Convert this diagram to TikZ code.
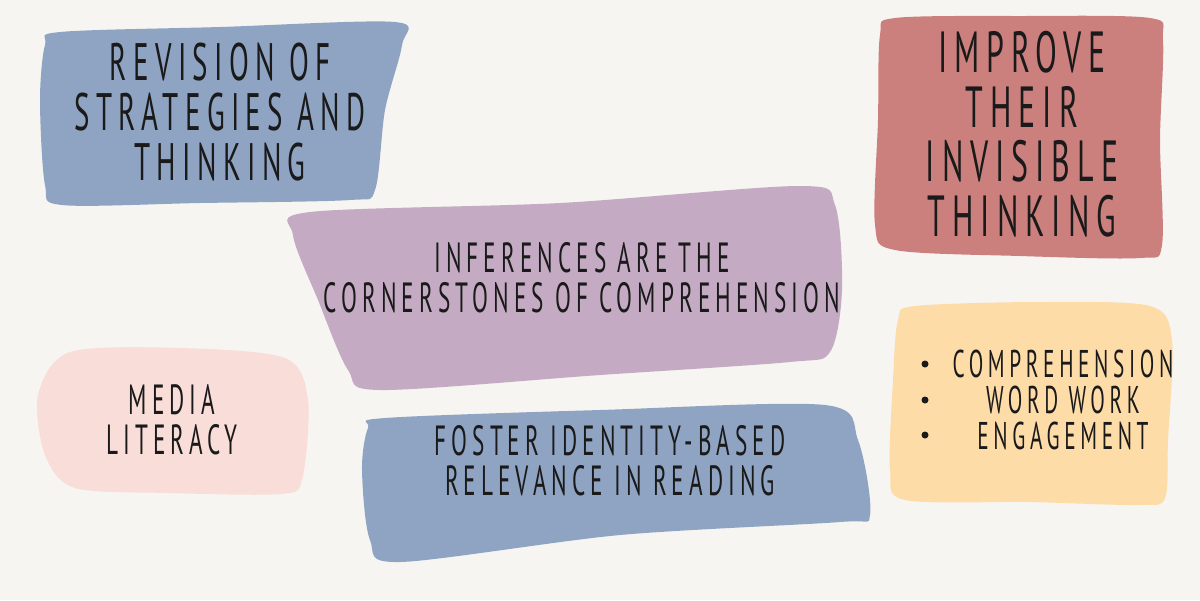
\documentclass[tikz,border=0pt]{standalone}
\usepackage{fontspec}
\newfontfamily\hand[FakeStretch=0.55,LetterSpace=12]{PT Sans}
\definecolor{bg}{HTML}{F7F5F1}
\definecolor{cblue}{HTML}{8FA3C3}
\definecolor{cmauve}{HTML}{C4ABC3}
\definecolor{cred}{HTML}{CC807E}
\definecolor{cpink}{HTML}{F9DDD8}
\definecolor{cyel}{HTML}{FDDCA8}
\definecolor{ink}{HTML}{1A1A1A}
\begin{document}
\begin{tikzpicture}[x=0.02cm,y=-0.02cm,
  big/.style={font=\hand\fontsize{30}{28.5}\selectfont,text=ink,align=center,inner sep=0},
  mid/.style={font=\hand\fontsize{24}{22.7}\selectfont,text=ink,align=center,inner sep=0}]
\fill[bg] (0,0) rectangle (1200,600);
\useasboundingbox (0,0) rectangle (1200,600);
% blue top-left
\fill[cblue] plot[smooth cycle,tension=0.5] coordinates{(60,32) (220,27) (395,22) (402,45) (385,110) (375,190) (350,200) (200,203) (62,205) (45,185) (40,100) (45,45)};
% red
\fill[cred] plot[smooth cycle,tension=0.5] coordinates{(895,18) (1020,16) (1150,18) (1163,40) (1160,140) (1162,245) (1140,258) (1020,256) (895,250) (875,225) (878,120) (880,35)};
% mauve
\fill[cmauve] plot[smooth cycle,tension=0.5] coordinates{(310,212) (560,203) (800,186) (835,205) (842,290) (830,352) (790,362) (600,375) (380,390) (348,370) (318,300) (293,235)};
% pink
\fill[cpink] plot[smooth cycle,tension=0.5] coordinates{(70,352) (180,348) (285,358) (308,400) (302,480) (280,494) (170,493) (75,488) (45,455) (38,395)};
% blue bottom
\fill[cblue] plot[smooth cycle,tension=0.5] coordinates{(385,418) (600,410) (825,405) (858,440) (870,515) (840,522) (620,535) (400,562) (370,540) (362,470) (368,428)};
% yellow
\fill[cyel] plot[smooth cycle,tension=0.5] coordinates{(915,306) (1040,302) (1150,306) (1172,340) (1168,440) (1165,498) (1140,505) (1030,502) (905,500) (890,470) (893,380) (898,320)};
\node[big] (t1) at (220,112) {REVISION OF\\STRATEGIES AND\\THINKING};
\node[big,font=\hand\fontsize{33}{31}\selectfont] (t2) at (1022,134) {IMPROVE\\THEIR\\INVISIBLE\\THINKING};
\node[mid] (t3) at (582,278) {INFERENCES ARE THE\\CORNERSTONES OF COMPREHENSION};
\node[mid] (t4) at (172,420) {MEDIA\\LITERACY};
\node[mid] (t5) at (610,461) {FOSTER IDENTITY-BASED\\RELEVANCE IN READING};
\node[mid,font=\hand\fontsize{22}{20.4}\selectfont] (t6) at (1063,400) {COMPREHENSION\\WORD WORK\\ENGAGEMENT};
\foreach \yy in {364,400,435}
  \fill[ink] (925,\yy) circle (3.5);
\end{tikzpicture}
\end{document}
